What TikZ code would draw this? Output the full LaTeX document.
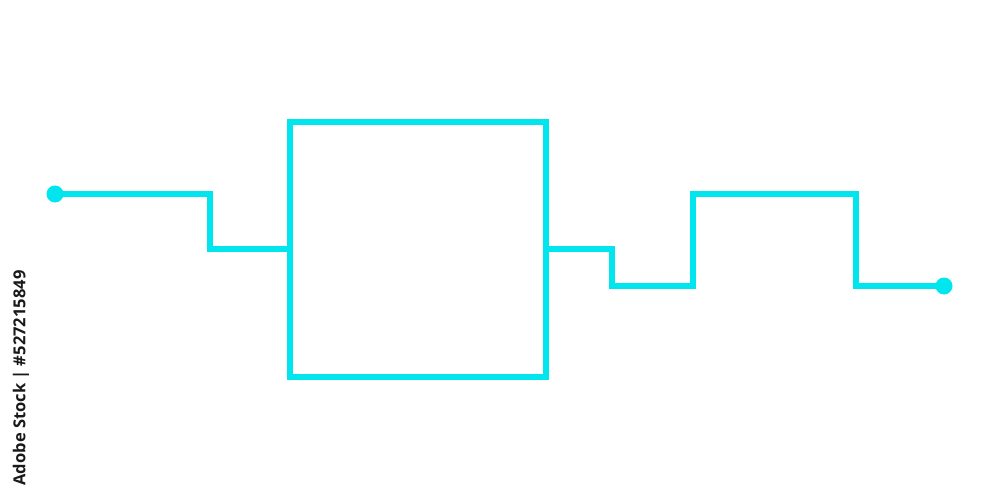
\documentclass[tikz,border=0pt]{standalone}
\usepackage{fontspec}
\setmainfont{Open Sans}
\definecolor{wire}{RGB}{0,229,238}
\definecolor{mark}{RGB}{25,25,25}
\begin{document}
\begin{tikzpicture}[x=0.02cm,y=-0.02cm,
  wireline/.style={draw=wire,line width=2.9pt,line join=miter},
  blockbox/.style={draw=wire,line width=2.9pt,minimum width=256*0.02cm,minimum height=255*0.02cm,inner sep=0pt},
  enddot/.style={circle,fill=wire,minimum size=17*0.02cm,inner sep=0pt},
  stamp/.style={text=mark,font=\fontsize{9.4pt}{11pt}\selectfont\bfseries,rotate=90,inner sep=0pt}]
\useasboundingbox (0,0) rectangle (1000,500);
\node[blockbox] (box) at (418,249.5) {};
\node[enddot] (in) at (55,194) {};
\node[enddot] (out) at (944,286) {};
\coordinate (l1) at (210,194);
\coordinate (l2) at (210,249);
\coordinate (r1) at (612,249);
\coordinate (r2) at (612,286);
\coordinate (r3) at (693,286);
\coordinate (r4) at (693,194);
\coordinate (r5) at (856,194);
\coordinate (r6) at (856,286);
\draw[wireline] (in.center) -- (l1) -- (l2) -- (box.west |- l2);
\draw[wireline] (box.east |- r1) -- (r1) -- (r2) -- (r3) -- (r4) -- (r5) -- (r6) -- (out.center);
\node[stamp] (wm) at (21,378) {Adobe Stock | \#527215849};
\end{tikzpicture}
\end{document}
